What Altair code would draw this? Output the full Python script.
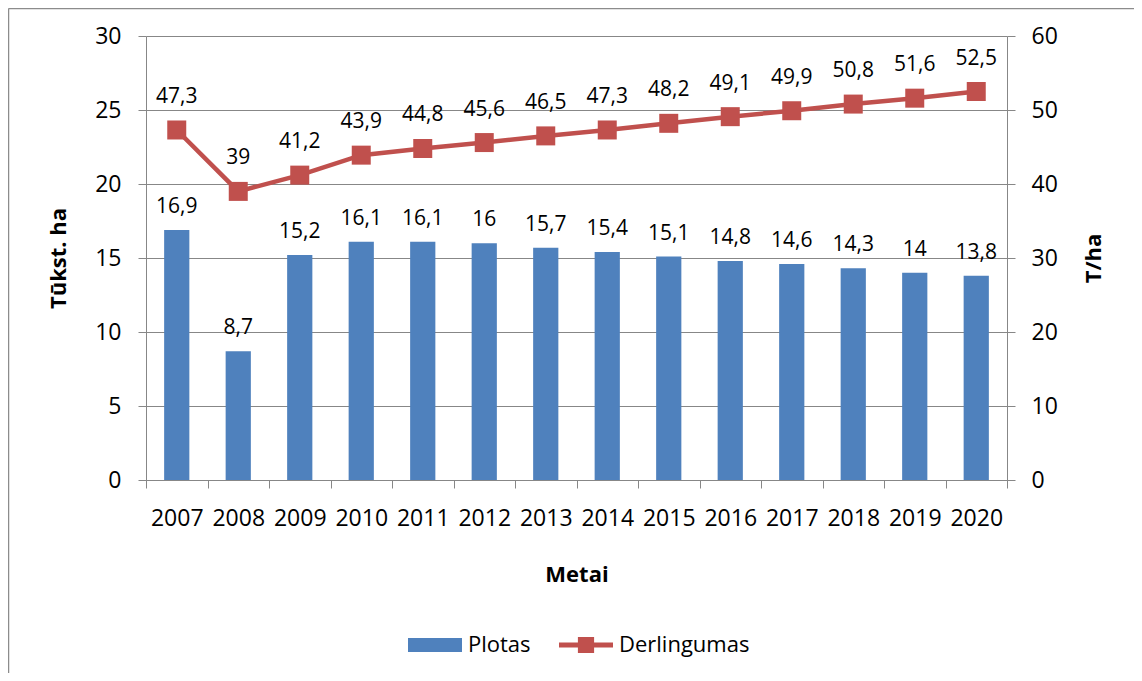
import altair as alt
import pandas as pd

years = ["2007", "2008", "2009", "2010", "2011", "2012", "2013",
         "2014", "2015", "2016", "2017", "2018", "2019", "2020"]
plotas = [16.9, 8.7, 15.2, 16.1, 16.1, 16, 15.7, 15.4, 15.1, 14.8, 14.6, 14.3, 14, 13.8]
derlingumas = [47.3, 39, 41.2, 43.9, 44.8, 45.6, 46.5, 47.3, 48.2, 49.1, 49.9, 50.8, 51.6, 52.5]
series_names = ["Plotas", "Derlingumas"]
series_colors = ["#4F81BD", "#C0504D"]

def lt(v):
    return f"{v:g}".replace(".", ",")

df = pd.DataFrame({
    "year": years,
    "plotas": plotas,
    "derl": derlingumas,
    "plotas_lbl": [lt(v) for v in plotas],
    "derl_lbl": [lt(v) for v in derlingumas],
})

FONT = "Open Sans"
GRID = "#878787"

x_enc = alt.X(
    "year:N",
    sort=years,
    scale=alt.Scale(paddingInner=0, paddingOuter=0),
    axis=alt.Axis(
        title="Metai", labelAngle=0, tickBand="extent", tickSize=8,
        labelPadding=19, labelFontSize=23, labelFont=FONT, labelColor="black",
        domainColor=GRID, tickColor=GRID, titleFont=FONT, titleFontSize=22,
        titleFontWeight="bold", titleY=94, titleBaseline="middle", grid=False,
    ),
)

y_left = alt.Y(
    "plotas:Q",
    scale=alt.Scale(domain=[0, 30], nice=False),
    axis=alt.Axis(
        title="Tūkst. ha", values=[0, 5, 10, 15, 20, 25, 30], tickSize=8,
        labelPadding=17, labelFontSize=23, labelFont=FONT, labelColor="black",
        domainColor=GRID, tickColor=GRID, grid=True, gridColor=GRID,
        titleFont=FONT, titleFontSize=22, titleFontWeight="bold",
        titleX=-88, titleY=222, titleAngle=270, titleBaseline="middle",
    ),
)

y_right = alt.Y(
    "derl:Q",
    scale=alt.Scale(domain=[0, 60], nice=False),
    axis=alt.Axis(
        title="T/ha", orient="right", values=[0, 10, 20, 30, 40, 50, 60],
        tickSize=8, labelPadding=16, labelFontSize=23, labelFont=FONT,
        labelColor="black", domainColor=GRID, tickColor=GRID, grid=False,
        titleFont=FONT, titleFontSize=22, titleFontWeight="bold",
        titleX=86, titleY=222, titleAngle=270, titleBaseline="middle",
    ),
)

base = alt.Chart(df)

bars = base.mark_bar(width=alt.RelativeBandSize(0.41), color=series_colors[0]).encode(
    x=x_enc, y=y_left
)
bar_labels = base.mark_text(
    font=FONT, fontSize=21, dy=-17, baseline="alphabetic", align="center", color="black"
).encode(x=x_enc, y=alt.Y("plotas:Q"), text="plotas_lbl:N")

rect_path = "M-1,-0.26L1,-0.26L1,0.26L-1,0.26Z"
line_path = ("M-1,-0.09L-0.3,-0.09L-0.3,-0.3L0.3,-0.3L0.3,-0.09L1,-0.09L1,0.09"
             "L0.3,0.09L0.3,0.3L-0.3,0.3L-0.3,0.09L-1,0.09Z")

legend_df = pd.DataFrame({"year": [years[0], years[0]], "series": series_names,
                          "plotas": [None, None]})
legend_layer = alt.Chart(legend_df).mark_point(filled=True, strokeWidth=0, opacity=1).encode(
    x=x_enc,
    y=alt.Y("plotas:Q"),
    color=alt.Color("series:N", scale=alt.Scale(domain=series_names, range=series_colors),
                    legend=alt.Legend(
                        title=None, orient="none", direction="horizontal",
                        legendX=262, legendY=582, symbolSize=2916,
                        symbolStrokeWidth=0, labelFont=FONT, labelFontSize=22,
                        labelColor="black", labelOffset=6, columnPadding=28,
                        padding=0)),
    shape=alt.Shape("series:N", scale=alt.Scale(domain=series_names,
                                                range=[rect_path, line_path])),
)

left = alt.layer(bars, bar_labels, legend_layer)

line = base.mark_line(color=series_colors[1], strokeWidth=4.5).encode(x=x_enc, y=y_right)
pts = base.mark_point(shape="square", filled=True, size=361, opacity=1,
                      color=series_colors[1]).encode(x=x_enc, y=alt.Y("derl:Q"))
line_labels = base.mark_text(
    font=FONT, fontSize=21, dy=-27, baseline="alphabetic", align="center", color="black"
).encode(x=x_enc, y=alt.Y("derl:Q"), text="derl_lbl:N")

right = alt.layer(line, pts, line_labels)

frame_df = pd.DataFrame({"a": [0]})
frame_v = alt.Chart(frame_df).mark_rule(color="#8c8c8c", strokeWidth=1.5).encode(
    x=alt.value(-137.5), y=alt.value(-27.5), y2=alt.value(700)
)
frame_h = alt.Chart(frame_df).mark_rule(color="#8c8c8c", strokeWidth=1.5).encode(
    x=alt.value(-137.5), x2=alt.value(1100), y=alt.value(-27.5)
)

chart = alt.layer(frame_v, frame_h, left, right).resolve_scale(
    y="independent", color="independent", shape="independent"
).properties(
    width=861, height=444,
    autosize=alt.AutoSizeParams(type="none"),
    padding={"left": 138, "top": 28, "right": 127, "bottom": 193},
    background="white",
).configure_view(strokeWidth=0)

chart.save("out.html", embed_options={"renderer": "svg", "actions": False})
